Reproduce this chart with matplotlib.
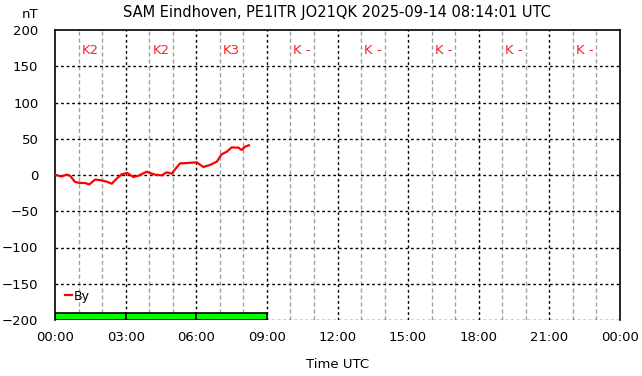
import matplotlib
matplotlib.use("Agg")
import matplotlib.pyplot as plt
from matplotlib.patches import Rectangle

hours = [0.04, 0.28, 0.5, 0.64, 0.85, 1.06, 1.27, 1.46, 1.7, 1.91, 2.2, 2.41, 2.62, 2.83,
         3.07, 3.33, 3.54, 3.9, 4.04, 4.25, 4.53, 4.74, 4.96, 5.1, 5.31, 5.6, 6.02, 6.3,
         6.58, 6.87, 7.08, 7.29, 7.5, 7.79, 7.93, 8.07, 8.24]
by = [0, -2, 0.5, -1, -9.6, -11, -11, -13, -6.4, -7, -9.2, -12, -5, 1,
      2.8, -2.8, -1, 4.6, 2.8, 0.5, -0.5, 3.7, 1.8, 7.8, 16, 16.5, 17.5, 11,
      13.8, 18.4, 28.5, 32, 38, 37.7, 34.5, 39, 41]

k_labels = ["K2", "K2", "K3", "K -", "K -", "K -", "K -", "K -"]
k_bar_heights = [9, 9, 9]  # green bars for completed 3h blocks
xticklabels = ["00:00", "03:00", "06:00", "09:00", "12:00", "15:00", "18:00", "21:00", "00:00"]

fig = plt.figure(figsize=(6.42, 3.76), dpi=100)
ax = fig.add_axes([55/642, 1-320/376, 565/642, 290/376])
ax.set_xlim(0, 24)
ax.set_ylim(-200, 200)

for h in range(1, 24):
    if h % 3 == 0:
        ax.axvline(h, color="black", lw=1, ls=(0, (2, 2)), zorder=1)
    else:
        ax.axvline(h, color="#a0a0a0", lw=1, ls=(0, (3, 2)), zorder=1)
for y in range(-200, 200, 50):
    ax.axhline(y, color="black", lw=1, ls=(0, (2, 2)), zorder=1)

for i, h in enumerate(k_bar_heights):
    ax.add_patch(Rectangle((i * 3, -200), 3, h, facecolor="#00ff00", edgecolor="black", lw=1.2, zorder=2))

for i, lab in enumerate(k_labels):
    ax.text(i * 3 + 1.5, 172, lab, color="#ff2020", ha="center", va="center", fontsize=9.5)

ax.plot(hours, by, color="red", lw=1.6, label="By", zorder=3)

ax.spines["bottom"].set_visible(False)
for s in ["top", "right", "left"]:
    ax.spines[s].set_linewidth(1.2)

ax.set_xticks(range(0, 25, 3))
ax.set_xticklabels(xticklabels, fontsize=9.5)
ax.set_yticks(range(-200, 201, 50))
ax.tick_params(axis="both", length=0, labelsize=9.5, pad=8)
ax.tick_params(axis="y", pad=12)
ax.set_xlabel("Time UTC", fontsize=9.5, labelpad=10)
fig.text(30/642, 1-15/376, "nT", ha="center", va="center", fontsize=9.5)
fig.text(337/642, 1-12/376, "SAM Eindhoven, PE1ITR JO21QK 2025-09-14 08:14:01 UTC",
         ha="center", va="center", fontsize=10.5)

leg = ax.legend(loc="center left", bbox_to_anchor=(0.017, 0.082), frameon=False, fontsize=9,
                handlelength=0.6, handletextpad=0.1, borderaxespad=0.0, borderpad=0.0)

fig.savefig("out.png", dpi=100)
